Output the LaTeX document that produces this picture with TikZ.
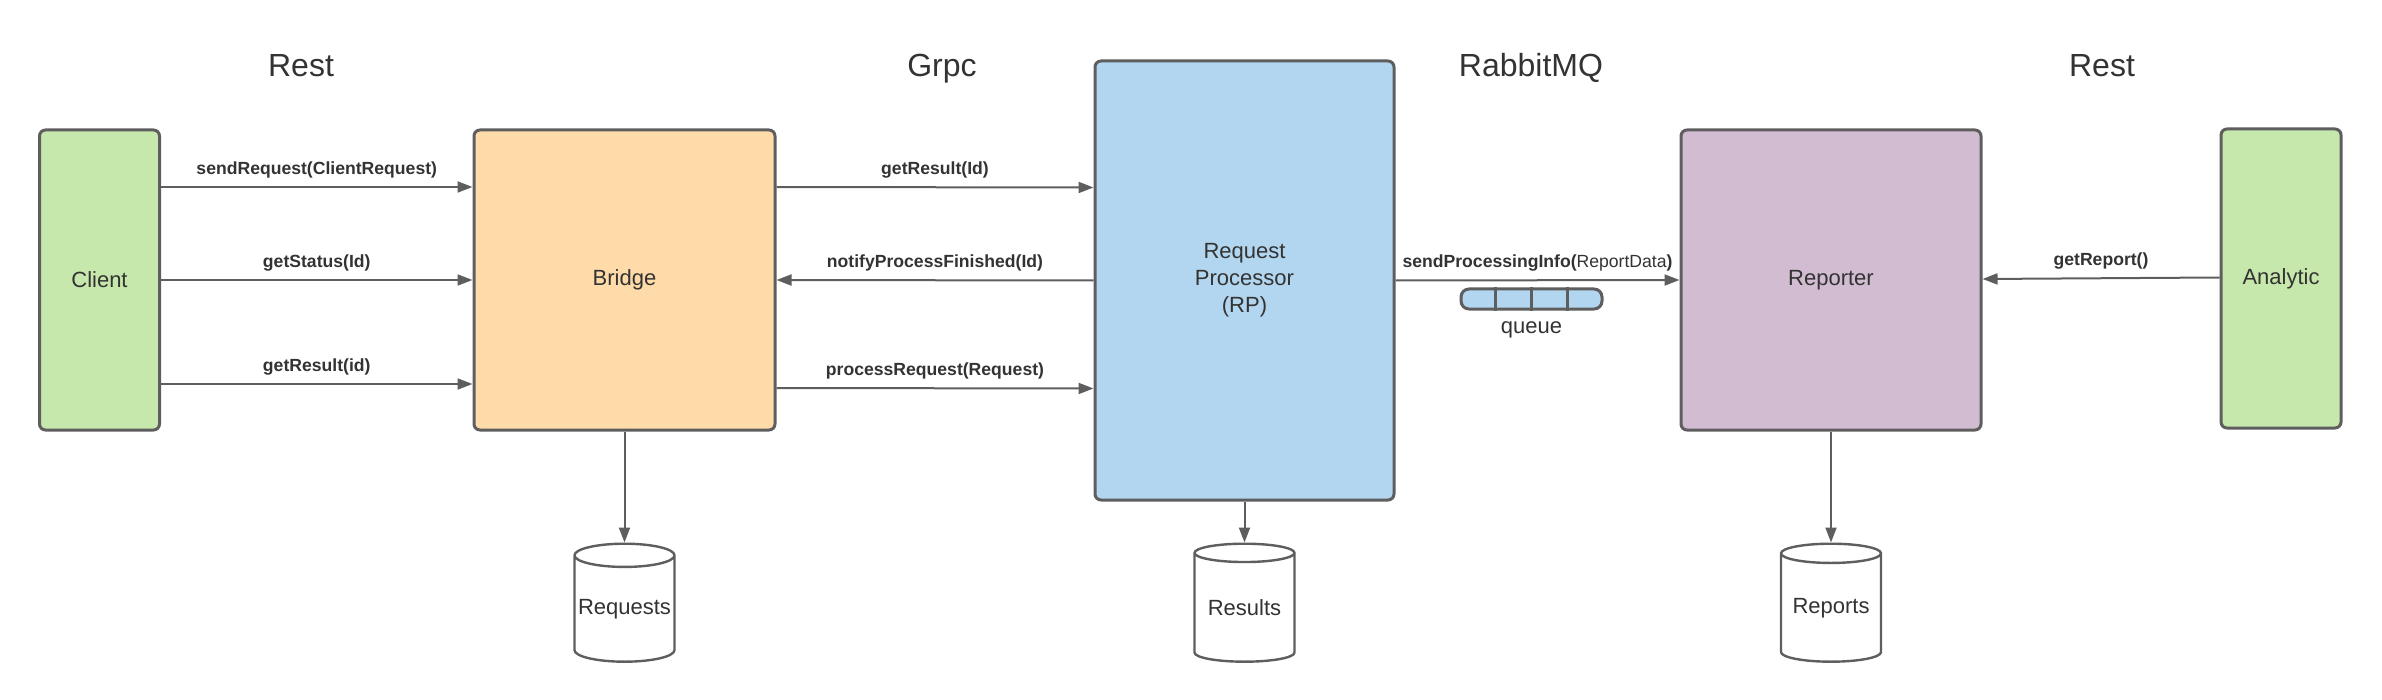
\documentclass[tikz,border=0pt]{standalone}
\usepackage{fontspec}
\setmainfont{Liberation Sans}
\usepackage{xcolor}
\usepackage{tikz}
\usetikzlibrary{positioning,arrows.meta,shapes.geometric,calc}
\definecolor{lline}{HTML}{5E5E5E}
\definecolor{ltext}{HTML}{333333}
\definecolor{lgreen}{HTML}{C7E8AC}
\definecolor{lorange}{HTML}{FFDBA9}
\definecolor{lblue}{HTML}{B2D6EF}
\definecolor{lpurple}{HTML}{D1BCD2}

\begin{document}
\begin{tikzpicture}[x=0.5pt, y=-0.5pt, text=ltext,
  svc/.style={draw=lline, line width=1.5pt, rounded corners=3pt, align=center, font=\fontsize{11}{13.5}\selectfont},
  db/.style={cylinder, shape border rotate=90, aspect=0.25, draw=lline, line width=1.2pt, fill=white,
    minimum width=50pt, minimum height=59pt, inner sep=0pt, font=\fontsize{11}{13.5}\selectfont},
  proto/.style={anchor=base, font=\fontsize{16}{19}\selectfont},
  call/.style={midway, above=4pt, inner sep=0pt, font=\fontsize{8.8}{10}\selectfont\bfseries},
  arr/.style={-{Triangle[length=7.5pt, width=5.5pt]}, draw=lline, line width=1pt}]
\useasboundingbox (0,0) rectangle (2382,700);
% protocols
\node[proto] (p1) at (301,77) {Rest};
\node[proto] (p2) at (942,77) {Grpc};
\node[proto] (p3) at (1531,77) {RabbitMQ};
\node[proto] (p4) at (2102,77) {Rest};
% services
\node[svc, fill=lgreen,  minimum width=60pt,    minimum height=150pt]   (client)   at (99.5,280)   {Client};
\node[svc, fill=lorange, minimum width=150.5pt, minimum height=150pt]   (bridge)   at (624.5,280)  {Bridge};
\node[svc, fill=lblue,   minimum width=149.5pt, minimum height=219.5pt] (rp)       at (1244.5,280.5) {Request\\ Processor\\ (RP)};
\node[svc, fill=lpurple, minimum width=150pt,   minimum height=150pt]   (reporter) at (1831,280)   {Reporter};
\node[svc, fill=lgreen,  minimum width=60pt,    minimum height=149.5pt] (analytic) at (2281,278.5) {Analytic};
% storages
\node[db, below=55.5pt of bridge]   (requests) {Requests};
\node[db, below=20.5pt of rp]       (results)  {Results};
\node[db, below=55.5pt of reporter] (reports)  {Reports};
\draw[arr] (bridge) -- (requests);
\draw[arr] (rp) -- (results);
\draw[arr] (reporter) -- (reports);
% client -> bridge
\draw[arr] ([yshift=46.5pt]client.east) -- node[call]{sendRequest(ClientRequest)} ([yshift=46.5pt]bridge.west);
\draw[arr] (client.east) -- node[call]{getStatus(Id)} (bridge.west);
\draw[arr] ([yshift=-52pt]client.east) -- node[call]{getResult(id)} ([yshift=-52pt]bridge.west);
% bridge <-> rp
\draw[arr] ([yshift=46.5pt]bridge.east) -- node[call]{getResult(Id)} ([yshift=46.5pt]rp.west);
\draw[arr] (rp.west) -- node[call]{notifyProcessFinished(Id)} (bridge.east);
\draw[arr] ([yshift=-54pt]bridge.east) -- node[call]{processRequest(Request)} ([yshift=-54pt]rp.west);
% rp -> reporter via queue
\draw[arr] (rp.east) -- node[call]{sendProcessingInfo(\mdseries ReportData\bfseries)} (reporter.west);
\node[draw=lline, line width=1.5pt, fill=lblue, rounded corners=4pt, minimum width=70.5pt, minimum height=10pt, inner sep=0pt] (queue) at (1531.5,299) {};
\foreach \i in {1,2,3}
  \draw[lline, line width=1.2pt] ($(queue.north west)!\i/4!(queue.north east)$) -- ($(queue.south west)!\i/4!(queue.south east)$);
\node[font=\fontsize{11}{13.5}\selectfont, below=2pt of queue] (qname) {queue};
% analytic -> reporter
\draw[arr] ([yshift=0.5pt]analytic.west) -- node[call]{getReport()} ([yshift=0.5pt]reporter.east);
\end{tikzpicture}
\end{document}
